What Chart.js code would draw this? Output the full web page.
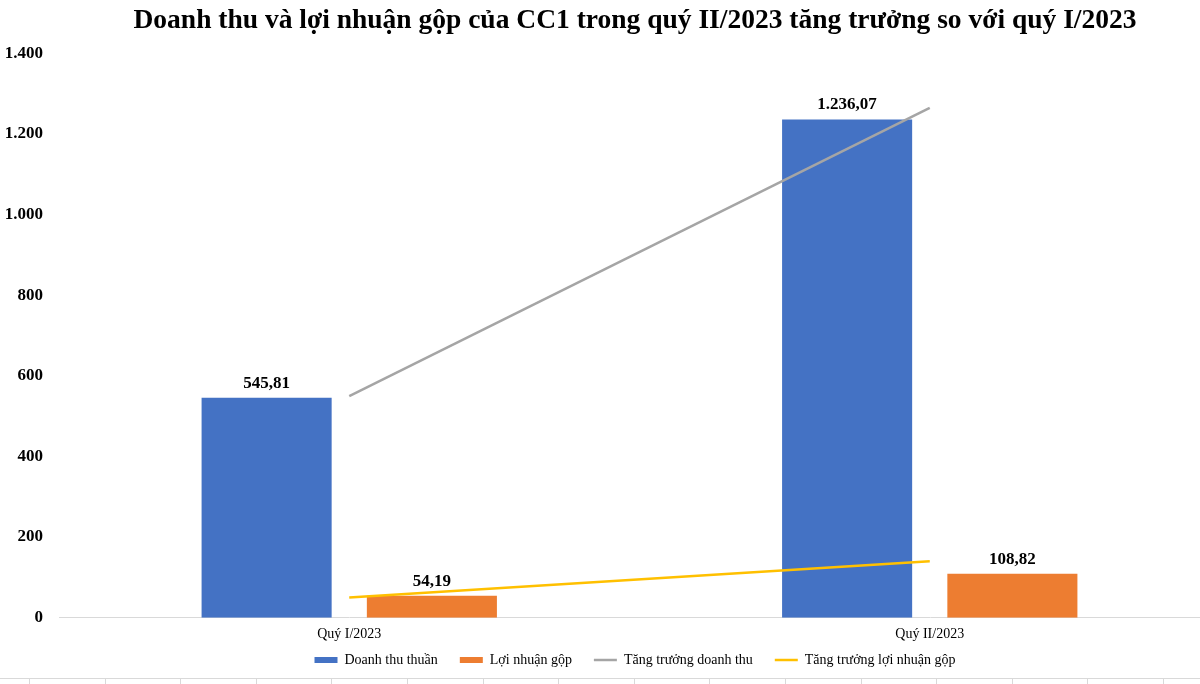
<!DOCTYPE html>
<html>
<head>
<meta charset="utf-8">
<script src="https://cdn.jsdelivr.net/npm/chart.js@4"></script>
<style>
  html, body { margin: 0; padding: 0; background: #ffffff; overflow: hidden; }
  #wrap { position: relative; width: 1270px; height: 684px; }
  #cells {
    position: absolute; left: 0; top: 678px; width: 1270px; height: 6px;
    border-top: 1px solid #d9d9d9;
    background: repeating-linear-gradient(to right, transparent 0, transparent 29px, #d9d9d9 29px, #d9d9d9 30px, transparent 30px, transparent 75.6px);
  }
</style>
</head>
<body>
<div id="wrap">
  <canvas id="c"></canvas>
  <div id="cells"></div>
</div>
<script>
const categories = ['Quý I/2023', 'Quý II/2023'];
const revenue = [545.81, 1236.07];
const grossProfit = [54.19, 108.82];
const revenueGrowth = [550, 1265];
const profitGrowth = [50, 140];
const yMax = 1400;
const yStep = 200;
const titleText = 'Doanh thu và lợi nhuận gộp của CC1 trong quý II/2023 tăng trưởng so với quý I/2023';

function fmtVN(v, dec) {
  const s = Number(v).toFixed(dec);
  const parts = s.split('.');
  const i = parts[0].replace(/\B(?=(\d{3})+(?!\d))/g, '.');
  return parts[1] ? i + ',' + parts[1] : i;
}

const SERIF = '"Liberation Serif", "Times New Roman", serif';

const barLabels = {
  id: 'barLabels',
  afterDatasetsDraw(chart) {
    const ctx = chart.ctx;
    ctx.save();
    ctx.font = 'bold 17px ' + SERIF;
    ctx.fillStyle = '#000000';
    ctx.textAlign = 'center';
    ctx.textBaseline = 'alphabetic';
    chart.data.datasets.forEach((ds, di) => {
      if (ds.type !== 'bar') return;
      const meta = chart.getDatasetMeta(di);
      meta.data.forEach((el, i) => {
        ctx.fillText(fmtVN(ds.data[i], 2), el.x, el.y - 10);
      });
    });
    ctx.restore();
  }
};

// Legend sits a little closer to the axis labels than Chart.js' default stacking.
const legendNudge = {
  id: 'legendNudge',
  afterLayout(chart) {
    const l = chart.legend;
    if (!l) return;
    l.top -= 11.7;
    l.bottom -= 11.7;
  }
};

new Chart(document.getElementById('c'), {
  data: {
    labels: categories,
    datasets: [
      { type: 'bar', label: 'Doanh thu thuần', data: revenue, backgroundColor: '#4472C4', borderWidth: 0, order: 2, pointStyle: 'rect', categoryPercentage: 0.5694, barPercentage: 0.787 },
      { type: 'bar', label: 'Lợi nhuận gộp', data: grossProfit, backgroundColor: '#ED7D31', borderWidth: 0, order: 2, pointStyle: 'rect', categoryPercentage: 0.5694, barPercentage: 0.787 },
      { type: 'line', label: 'Tăng trưởng doanh thu', data: revenueGrowth, borderColor: '#A5A5A5', backgroundColor: '#A5A5A5', borderWidth: 2.5, pointRadius: 0, pointStyle: 'line', order: 1 },
      { type: 'line', label: 'Tăng trưởng lợi nhuận gộp', data: profitGrowth, borderColor: '#FFC000', backgroundColor: '#FFC000', borderWidth: 2.5, pointRadius: 0, pointStyle: 'line', order: 1 }
    ]
  },
  options: {
    responsive: true,
    maintainAspectRatio: false,
    animation: false,
    layout: { padding: { left: 5, right: 5, top: 0, bottom: -4.7 } },
    plugins: {
      title: {
        display: true,
        text: titleText,
        color: '#000000',
        font: { family: SERIF, size: 27.5, weight: 'bold' },
        padding: { top: 4.5, bottom: 15.9 }
      },
      legend: {
        display: true,
        position: 'bottom',
        labels: {
          usePointStyle: true,
          pointStyleWidth: 23,
          boxHeight: 6,
          padding: 22,
          color: '#000000',
          font: { family: SERIF, size: 14 },
          sort: (a, b) => a.datasetIndex - b.datasetIndex
        }
      },
      tooltip: { enabled: false }
    },
    scales: {
      x: {
        offset: true,
        grid: { display: false, drawTicks: false },
        border: { display: true, color: '#d9d9d9', width: 1 },
        ticks: { color: '#000000', font: { family: SERIF, size: 14 }, padding: 8 },
        afterFit: (scale) => { scale.height = 25; }
      },
      y: {
        min: 0,
        max: yMax,
        grid: { display: false, drawTicks: false },
        border: { display: false },
        ticks: {
          stepSize: yStep,
          color: '#000000',
          padding: 16,
          font: { family: SERIF, size: 17, weight: 'bold' },
          callback: (v) => fmtVN(v, 0)
        },
        afterFit: (scale) => { scale.width = 54; }
      },
      yPad: {
        type: 'linear',
        position: 'right',
        display: true,
        grid: { display: false, drawTicks: false },
        border: { display: false },
        ticks: { display: false },
        afterFit: (scale) => { scale.width = 45; }
      }
    }
  },
  plugins: [barLabels, legendNudge]
});
</script>
</body>
</html>
